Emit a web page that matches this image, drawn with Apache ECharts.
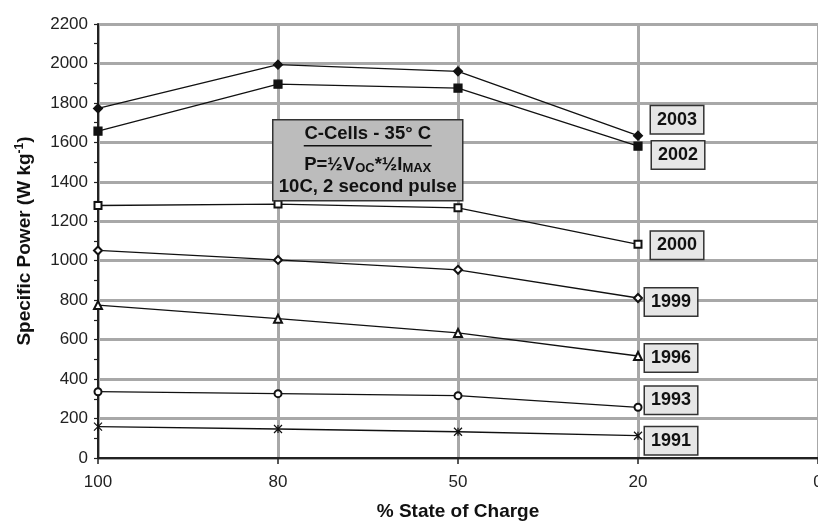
<!DOCTYPE html>
<html><head><meta charset="utf-8">
<script src="https://cdn.jsdelivr.net/npm/echarts@6/dist/echarts.min.js"></script>
<style>html,body{margin:0;padding:0;background:#fff}#c{width:818px;height:522px}</style>
</head><body><div id="c"></div>
<script>
const categories = ['100', '80', '50', '20', '0'];
const yTicks = { min: 0, max: 2200, interval: 200 };
const s2003 = [1772, 1994, 1960, 1634];
const s2002 = [1657, 1895, 1875, 1581];
const s2000 = [1280, 1287, 1268, 1083];
const s1999 = [1052, 1004, 954, 811];
const s1996 = [775, 706, 634, 517];
const s1993 = [336, 326, 316, 257];
const s1991 = [159, 147, 133, 113];

const FONT = '"Liberation Sans", Arial, sans-serif';
const starPath = 'path://M0,0L10,10M10,0L0,10M5,0L5,10';

const seriesDefs = [
  { name: '2003', data: s2003, symbol: 'diamond', size: 9, off: [13, -16] },
  { name: '2002', data: s2002, symbol: 'rect', size: 8, off: [14, 9] },
  { name: '2000', data: s2000, symbol: 'emptyRect', size: 7, off: [13, 1] },
  { name: '1999', data: s1999, symbol: 'emptyDiamond', size: 8, off: [7, 4] },
  { name: '1996', data: s1996, symbol: 'emptyTriangle', size: 8, off: [7, 2] },
  { name: '1993', data: s1993, symbol: 'emptyCircle', size: 7, off: [7, -7] },
  { name: '1991', data: s1991, symbol: starPath, size: 8, off: [7, 5] }
];

const series = seriesDefs.map(d => ({
  name: d.name,
  type: 'line',
  data: d.data,
  symbol: d.symbol,
  symbolSize: d.size,
  showAllSymbol: true,
  lineStyle: { color: '#111', width: 1.3 },
  itemStyle: { color: '#111', borderColor: '#111', borderWidth: 1.2 },
  emphasis: { disabled: true },
  z: 5,
  endLabel: {
    show: true,
    formatter: '{a}',
    distance: 0,
    offset: d.off,
    fontFamily: FONT,
    fontWeight: 'bold',
    fontSize: 18,
    color: '#111',
    backgroundColor: '#e6e6e6',
    borderColor: '#333',
    borderWidth: 1.5,
    padding: [5, 6, 4, 6]
  }
}));

const chart = echarts.init(document.getElementById('c'));
chart.setOption({
  animation: false,
  grid: { left: 98, right: 0, top: 24, bottom: 64, containLabel: false, outerBoundsMode: 'none' },
  xAxis: {
    type: 'category',
    data: categories,
    boundaryGap: false,
    name: '% State of Charge',
    nameLocation: 'middle',
    nameGap: 44,
    nameTextStyle: { fontFamily: FONT, fontWeight: 'bold', fontSize: 19, color: '#111' },
    axisLine: { lineStyle: { color: '#222', width: 2 } },
    axisTick: { show: true, alignWithLabel: true, length: 6, lineStyle: { color: '#222', width: 1.5 } },
    axisLabel: { fontFamily: FONT, fontSize: 17, color: '#222', margin: 16 },
    splitLine: { show: true, lineStyle: { color: '#a8a8a8', width: 3 } }
  },
  yAxis: {
    type: 'value',
    min: yTicks.min, max: yTicks.max, interval: yTicks.interval,
    name: 'Specific Power (W kg{sup|-1})',
    nameLocation: 'middle',
    nameGap: 62,
    nameRotate: 90,
    nameTextStyle: {
      fontFamily: FONT, fontWeight: 'bold', fontSize: 19, color: '#111',
      rich: { sup: { fontFamily: FONT, fontWeight: 'bold', fontSize: 12, color: '#111', verticalAlign: 'top', padding: [0, 0, 10, 0] } }
    },
    axisLine: { show: true, lineStyle: { color: '#222', width: 2 } },
    axisTick: { show: true, length: 4, lineStyle: { color: '#222', width: 1.2 } },
    minorTick: { show: true, splitNumber: 2, length: 4, lineStyle: { color: '#222', width: 1.2 } },
    axisLabel: { fontFamily: FONT, fontSize: 17, color: '#222', margin: 10, formatter: v => String(v) },
    splitLine: { show: true, lineStyle: { color: '#a8a8a8', width: 3 } }
  },
  series: series,
  graphic: [
    {
      type: 'group', left: 272, top: 119, z: 100,
      children: [
        { type: 'rect', z: 100, shape: { x: 0, y: 0, width: 190, height: 81 }, style: { fill: '#bcbcbc', stroke: '#333', lineWidth: 1.5 } },
        { type: 'text', z: 101, style: { x: 95, y: 5, text: 'C-Cells - 35° C', font: 'bold 18.5px ' + FONT, fill: '#111', align: 'center', verticalAlign: 'top' } },
        { type: 'line', z: 101, shape: { x1: 31, y1: 26, x2: 159, y2: 26 }, style: { stroke: '#111', lineWidth: 1.5 } },
        { type: 'text', z: 101, style: {
            x: 95, y: 33, align: 'center', verticalAlign: 'top',
            text: '{m|P=½V}{s|OC}{m|*½I}{s|MAX}',
            rich: {
              m: { fontFamily: FONT, fontWeight: 'bold', fontSize: 18.5, fill: '#111', lineHeight: 22, verticalAlign: 'bottom' },
              s: { fontFamily: FONT, fontWeight: 'bold', fontSize: 13, fill: '#111', lineHeight: 12, verticalAlign: 'bottom' }
            }
        } },
        { type: 'text', z: 101, style: { x: 95, y: 58, text: '10C, 2 second pulse', font: 'bold 18.5px ' + FONT, fill: '#111', align: 'center', verticalAlign: 'top' } }
      ]
    }
  ]
});
</script>
</body></html>
